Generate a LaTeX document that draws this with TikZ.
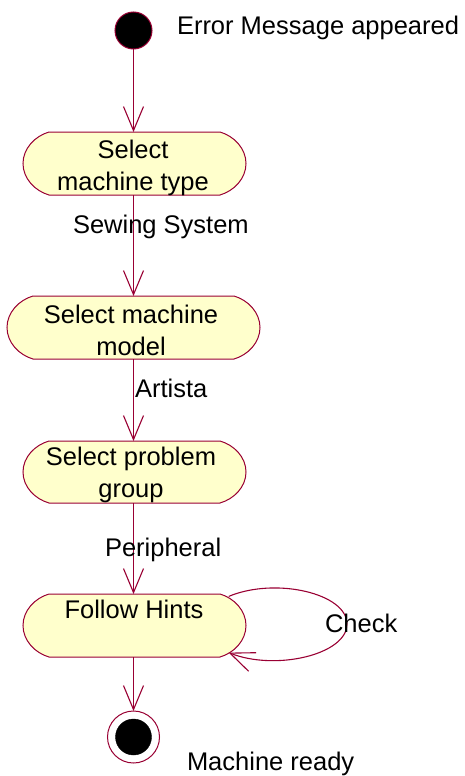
\documentclass[tikz,border=0pt]{standalone}
\usepackage{fontspec}
\setmainfont{Liberation Sans}
\usetikzlibrary{arrows.meta}
\definecolor{rosered}{RGB}{153,0,51}
\definecolor{roseyel}{RGB}{255,255,204}
% capsule with arced ends: centre x, centre y, width, height (picture units, y down)
\newcommand\actcapsule[4]{%
 \path[actborder]
   ({#1-#3/2+26},{#2-#4/2}) -- ({#1+#3/2-26},{#2-#4/2})
   .. controls ({#1+#3/2-12},{#2-#4/2+4}) and ({#1+#3/2},{#2-15}) .. ({#1+#3/2},#2)
   .. controls ({#1+#3/2},{#2+15}) and ({#1+#3/2-12},{#2+#4/2-4}) .. ({#1+#3/2-26},{#2+#4/2})
   -- ({#1-#3/2+26},{#2+#4/2})
   .. controls ({#1-#3/2+12},{#2+#4/2-4}) and ({#1-#3/2},{#2+15}) .. ({#1-#3/2},#2)
   .. controls ({#1-#3/2},{#2-15}) and ({#1-#3/2+12},{#2-#4/2+4}) .. cycle;}
\begin{document}
\begin{tikzpicture}[x=1pt,y=-1pt,
  every node/.style={font=\fontsize{25.5}{32}\selectfont, inner sep=0pt, outer sep=0pt},
  actborder/.style={draw=rosered, fill=roseyel, line width=1pt},
  actbox/.style={rectangle, draw=none},
  acttext/.style={align=center, text=black},
  flow/.style={draw=rosered, line width=1.1pt, -{Straight Barb[length=24pt,width=20pt]}},
  lbl/.style={anchor=base west, text=black}]
\useasboundingbox (0,0) rectangle (465,776);
% start
\node[circle, fill=black, draw=rosered, line width=1pt, minimum size=37pt] (start) at (133.5,30.5) {};
\node[lbl] (tstart) at (177,35) {Error Message appeared};
% activities
\actcapsule{134.5}{163.5}{223}{63}
\node[actbox, minimum width=223pt, minimum height=63pt] (n1) at (134.5,163.5) {};
\node[acttext] (n1t) at (133,167.5) {Select\\machine type};
\actcapsule{133.5}{327.5}{253}{63}
\node[actbox, minimum width=253pt, minimum height=63pt] (n2) at (133.5,327.5) {};
\node[acttext] (n2t) at (131,330.5) {Select machine\\model};
\actcapsule{134.5}{472}{223}{62}
\node[actbox, minimum width=223pt, minimum height=62pt] (n3) at (134.5,472) {};
\node[acttext] (n3t) at (131,475) {Select problem\\group};
\actcapsule{134.5}{625.5}{223}{63}
\node[actbox, minimum width=223pt, minimum height=63pt] (n4) at (134.5,625.5) {};
\node[acttext] (n4t) at (134,630.5) {Follow Hints\\\strut};
% end
\node[circle, fill=white, draw=rosered, line width=1pt, minimum size=52pt] (end) at (133.5,737) {};
\node[circle, fill=black, draw=black, minimum size=36pt] (endin) at (end.center) {};
\node[lbl] (tend) at (187,770) {Machine ready};
% flows
\draw[flow] (start.south) -- (start.south |- n1.north);
\draw[flow] (end.north |- n1.south) -- (end.north |- n2.north);
\draw[flow] (end.north |- n2.south) -- (end.north |- n3.north);
\draw[flow] (end.north |- n3.south) -- (end.north |- n4.north);
\draw[flow] (end.north |- n4.south) -- (end.north);
\node[lbl] (l1) at (73,233) {Sewing System};
\node[lbl] (l2) at (135,397) {Artista};
\node[lbl] (l3) at (105,556) {Peripheral};
% self loop
\coordinate (ls) at (228.7,596.4);
\coordinate (le) at (228.7,652.6);
\draw[flow] (ls) .. controls (275.5,576.8) and (347,593.4) .. (347,624)
  .. controls (347,654.6) and (275.5,671.2) .. (le);
\node[lbl] (l4) at (325,632) {Check};
\end{tikzpicture}
\end{document}
